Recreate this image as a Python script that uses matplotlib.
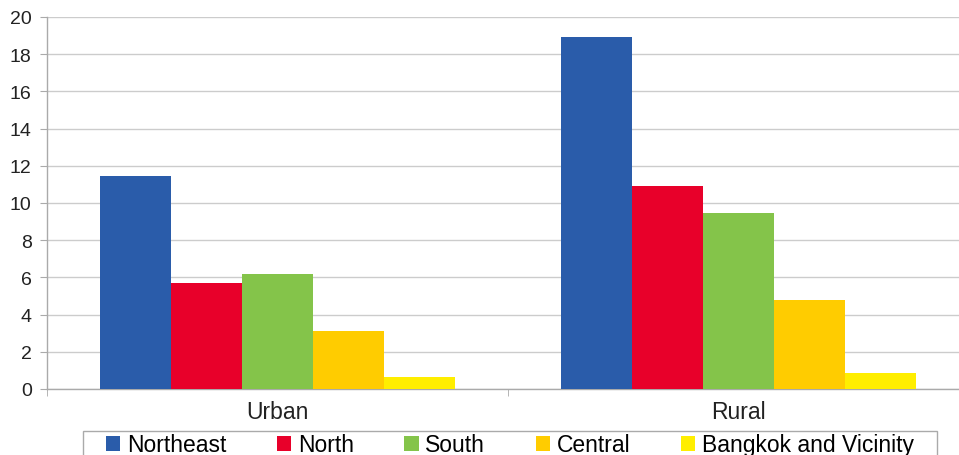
import matplotlib
matplotlib.use("Agg")
import matplotlib.pyplot as plt
from matplotlib.patches import Rectangle
import numpy as np

plt.rcParams["font.family"] = ["Liberation Sans", "DejaVu Sans"]

categories = ["Urban", "Rural"]
regions = ["Northeast", "North", "South", "Central", "Bangkok and Vicinity"]
northeast = [11.45, 18.9]
north = [5.7, 10.9]
south = [6.2, 9.45]
central = [3.1, 4.8]
bangkok = [0.65, 0.85]
series = [northeast, north, south, central, bangkok]
colors = ["#2a5caa", "#e8002a", "#84c44a", "#ffcc00", "#ffee00"]
yticks = [0, 2, 4, 6, 8, 10, 12, 14, 16, 18, 20]

W, H = 959, 456
fig = plt.figure(figsize=(W / 100, H / 100), dpi=100)
ax = fig.add_axes([47 / W, 66 / H, 922 / W, 372 / H])

x = np.arange(len(categories))
bar_w = 0.77 / len(series)
for i, (vals, col, name) in enumerate(zip(series, colors, regions)):
    offs = (i - (len(series) - 1) / 2) * bar_w
    ax.bar(x + offs, vals, width=bar_w, color=col, label=name, zorder=3,
           linewidth=0)

ax.set_xlim(-0.5, 1.5)
ax.set_ylim(0, 20)
ax.set_yticks(yticks)
ax.set_yticklabels([str(t) for t in yticks], fontsize=14, color="#222222")
ax.yaxis.grid(True, color="#cccccc", linewidth=1, zorder=0)
ax.set_axisbelow(True)

# category labels sit between minor ticks at the group boundaries
ax.set_xticks(x)
ax.set_xticklabels(categories, fontsize=16.5, color="#222222")
ax.tick_params(axis="x", length=0, pad=8)
ax.set_xticks([-0.5, 0.5, 1.5], minor=True)
ax.tick_params(axis="x", which="minor", length=5, color="#aaaaaa")
ax.tick_params(axis="y", length=5, color="#aaaaaa", pad=6)

for s in ["top", "right"]:
    ax.spines[s].set_visible(False)
for s in ["left", "bottom"]:
    ax.spines[s].set_color("#aaaaaa")
    ax.spines[s].set_linewidth(1)

# legend frame running off the bottom edge
fig.patches.append(Rectangle((83 / W, -0.05), 854 / W, 0.05 + 1 - 432 / H,
                             transform=fig.transFigure, fill=False,
                             edgecolor="#aaaaaa", linewidth=1))
leg = fig.legend(loc="center", bbox_to_anchor=(510 / W, 1 - 446 / H),
                 ncol=5, frameon=False, fontsize=16.5,
                 handlelength=0.62, handleheight=0.62, handletextpad=0.3,
                 columnspacing=2.2, borderpad=0, borderaxespad=0)

fig.savefig("out.png", dpi=100)
